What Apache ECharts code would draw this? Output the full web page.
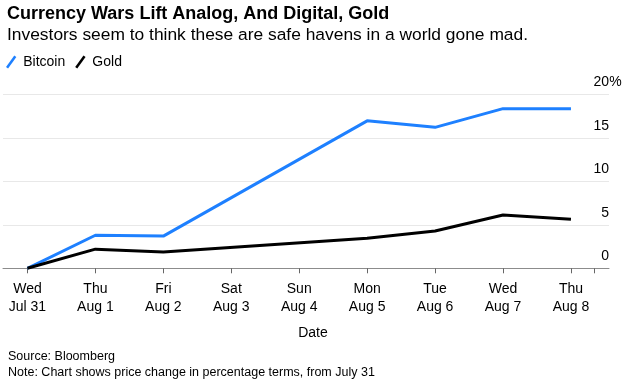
<!DOCTYPE html>
<html><head><meta charset="utf-8">
<script src="https://cdn.jsdelivr.net/npm/echarts@6/dist/echarts.min.js"></script>
<style>html,body{margin:0;padding:0;background:#fff}#c{width:628px;height:379px}</style>
</head><body><div id="c"></div>
<script>
var weekdays = ['Wed','Thu','Fri','Sat','Sun','Mon','Tue','Wed','Thu'];
var dates = ['Jul 31','Aug 1','Aug 2','Aug 3','Aug 4','Aug 5','Aug 6','Aug 7','Aug 8'];
var bitcoin = [0, 3.8, 3.7, null, null, 16.95, 16.2, 18.35, 18.35];
var gold = [0, 2.2, 1.87, null, null, 3.45, 4.29, 6.13, 5.65];
var yTicks = [0, 5, 10, 15, 20];

var FONT = '"Liberation Sans", Arial, sans-serif';
function pairs(arr){ return arr.map(function(v,i){ return [i, v]; }); }
var idx = weekdays.map(function(_, i){ return i; });

var chart = echarts.init(document.getElementById('c'), null, {renderer:'canvas'});
chart.setOption({
  animation: false,
  textStyle: {fontFamily: FONT},
  title: [
    {text: 'Currency Wars Lift Analog, And Digital, Gold', left: 2, top: 0,
     textStyle: {fontFamily: FONT, fontWeight: 'bold', fontSize: 18, color: '#000'}},
    {text: 'Investors seem to think these are safe havens in a world gone mad.', left: 2, top: 22,
     textStyle: {fontFamily: FONT, fontWeight: 'normal', fontSize: 17.4, color: '#000'}},
    {text: 'Source: Bloomberg', left: 3, top: 345,
     textStyle: {fontFamily: FONT, fontWeight: 'normal', fontSize: 12.5, color: '#000'}},
    {text: 'Note: Chart shows price change in percentage terms, from July 31', left: 3, top: 361,
     textStyle: {fontFamily: FONT, fontWeight: 'normal', fontSize: 12.5, color: '#000'}}
  ],
  legend: {
    left: 1, top: 50, itemWidth: 14, itemHeight: 13, itemGap: 10,
    textStyle: {fontFamily: FONT, fontSize: 14, color: '#000', padding: [0,0,0,0]},
    data: [
      {name: 'Bitcoin', icon: 'path://M0,10 L7.2,0 L9,1.3 L1.8,11.3 Z'},
      {name: 'Gold', icon: 'path://M0,10 L7.2,0 L9,1.3 L1.8,11.3 Z'}
    ]
  },
  grid: {left: 3, right: 19, top: 94.3, bottom: 110.7, containLabel: false},
  xAxis: {
    type: 'value', min: -0.36, max: 8.56,
    name: 'Date', nameLocation: 'middle', nameGap: 58,
    nameTextStyle: {fontFamily: FONT, fontSize: 14, color: '#000', padding: [0,0,0,14]},
    axisLine: {show: true, onZero: false, lineStyle: {color: '#8c8c8c', width: 1}},
    axisTick: {show: true, length: 5, lineStyle: {color: '#666'}, customValues: idx.concat([8.34])},
    axisLabel: {
      customValues: idx, margin: 12, color: '#000', fontSize: 14, lineHeight: 18,
      fontFamily: FONT,
      formatter: function(v){ var i = Math.round(v); return weekdays[i] + '\n' + dates[i]; }
    },
    splitLine: {show: false}
  },
  yAxis: {
    type: 'value', position: 'right', min: 0, max: 20, interval: 5,
    axisLine: {show: false}, axisTick: {show: false},
    splitLine: {show: true, lineStyle: {color: '#e8e8e8', width: 1}},
    axisLabel: {
      inside: true, margin: -13, align: 'right', verticalAlign: 'bottom',
      showMinLabel: true, showMaxLabel: true,
      padding: [0,0,5,0], color: '#000', fontSize: 14, fontFamily: FONT,
      formatter: function(v){ return v === 20 ? '{n|' + v + '}{p|%}' : '{n|' + v + '}{p| }'; },
      rich: {
        n: {fontSize: 14, fontFamily: FONT, color: '#000'},
        p: {fontSize: 14, fontFamily: FONT, color: '#000', width: 13, align: 'left'}
      }
    }
  },
  series: [
    {name: 'Bitcoin', type: 'line', data: pairs(bitcoin), connectNulls: true, showSymbol: false,
     symbol: 'none', lineStyle: {color: '#1e80ff', width: 3}, itemStyle: {color: '#1e80ff'}, z: 2},
    {name: 'Gold', type: 'line', data: pairs(gold), connectNulls: true, showSymbol: false,
     symbol: 'none', lineStyle: {color: '#000', width: 3}, itemStyle: {color: '#000'}, z: 3}
  ]
});
</script>
</body></html>
